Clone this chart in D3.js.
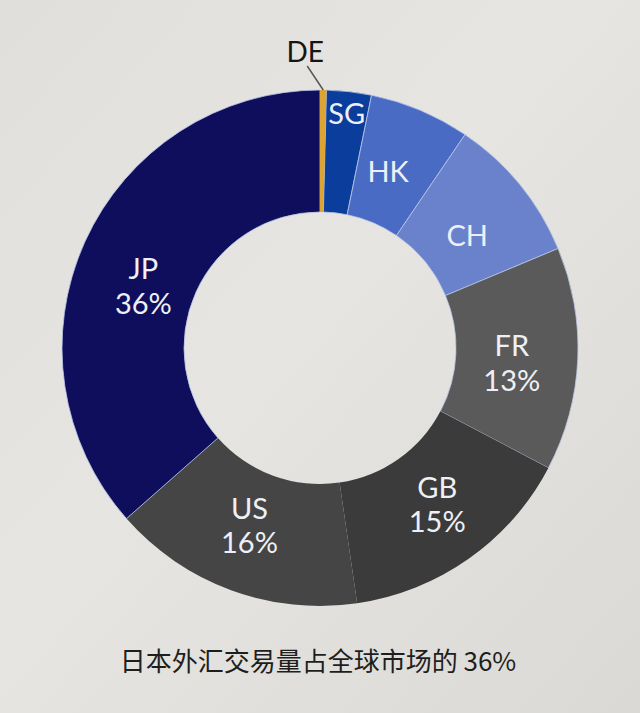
<!DOCTYPE html>
<html><head><meta charset="utf-8">
<script src="https://cdn.jsdelivr.net/npm/d3@7"></script>
<style>html,body{margin:0;padding:0;}svg{display:block;}</style>
</head><body>
<svg id="c" width="640" height="713"></svg>
<script>
const countries = ["DE","SG","HK","CH","FR","GB","US","JP"];
const shares = [0.4, 2.8, 6.3, 9.2, 14.0, 15.0, 15.8, 36.5];
const shownPct = ["", "", "", "", "13%", "15%", "16%", "36%"];
const colors = ["#dba433","#0b3e9c","#4a6bc4","#6a82cc","#5a5a5a","#3b3b3b","#454545","#0e0e5c"];
const caption = "日本外汇交易量占全球市场的 36%";

const svg = d3.select("#c");
const defs = svg.append("defs");
const g0 = defs.append("linearGradient").attr("id","bg").attr("x1","0").attr("y1","0").attr("x2","1").attr("y2","1");
g0.append("stop").attr("offset","0").attr("stop-color","#e0dfdb");
g0.append("stop").attr("offset","0.45").attr("stop-color","#e6e5e1");
g0.append("stop").attr("offset","1").attr("stop-color","#dad9d5");
svg.append("rect").attr("width",640).attr("height",713).attr("fill","url(#bg)");

const cx = 320, cy = 348, R = 258, r = 136;
const data = countries.map((c,i)=>({c, v:shares[i], p:shownPct[i], col:colors[i]}));
const pie = d3.pie().value(d=>d.v).sort(null);
const arcs = pie(data);
const arc = d3.arc().innerRadius(r).outerRadius(R);
const g = svg.append("g").attr("transform",`translate(${cx},${cy})`);
const noStroke = new Set(["GB","US"]);
g.selectAll("path.s").data(arcs.filter(d=>d.data.c!=="DE")).join("path")
  .attr("class","s")
  .attr("d",arc).attr("fill",d=>d.data.col)
  .attr("stroke",d=>noStroke.has(d.data.c) ? "none" : "#b9c6e6").attr("stroke-width",0.8);
g.append("path").attr("d",arc(arcs[0])).attr("fill",arcs[0].data.col);

// label placement tweaks (layout only)
const labelR = {SG:236, HK:196, CH:190};
const labelShift = {JP:[2,16], CH:[0,8], HK:[-8,4], US:[-3,-9], GB:[4,-6], FR:[-4,4]};
const lab = g.selectAll("text.lab").data(arcs.filter(d=>d.data.c!=="DE")).join("text")
  .attr("class","lab")
  .attr("font-family","Lato, 'Open Sans', sans-serif")
  .attr("font-size",29).attr("fill","#eef0f6").attr("text-anchor","middle")
  .attr("transform",d=>{
    const rr = labelR[d.data.c] || 196;
    const a = d3.arc().innerRadius(rr).outerRadius(rr);
    const [x,y] = a.centroid(d);
    const s = labelShift[d.data.c] || [0,0];
    return `translate(${x+s[0]},${y+s[1]})`;
  });
lab.each(function(d){
  const t = d3.select(this);
  if (d.data.p) {
    t.append("tspan").attr("x",0).attr("dy","-0.15em").text(d.data.c);
    t.append("tspan").attr("x",0).attr("dy","1.2em").text(d.data.p);
  } else {
    t.append("tspan").attr("x",0).attr("dy","0.36em").text(d.data.c);
  }
});

// DE external label
const de = arcs[0];
const deAng = (de.startAngle+de.endAngle)/2;
const p1 = [Math.sin(deAng)*R, -Math.cos(deAng)*R];
g.append("line").attr("x1",p1[0]).attr("y1",p1[1]).attr("x2",p1[0]-16).attr("y2",p1[1]-24)
  .attr("stroke","#555").attr("stroke-width",1.5);
g.append("text").attr("x",p1[0]-18).attr("y",p1[1]-28)
  .attr("font-family","Lato, 'Open Sans', sans-serif").attr("font-size",28)
  .attr("fill","#151515").attr("text-anchor","middle").text("DE");

svg.append("text").attr("x",318).attr("y",671).attr("text-anchor","middle")
  .attr("font-family","'Noto Sans CJK SC', sans-serif").attr("font-size",26)
  .attr("font-weight",400)
  .attr("fill","#1e1e1e").text(caption);
</script>
</body></html>
